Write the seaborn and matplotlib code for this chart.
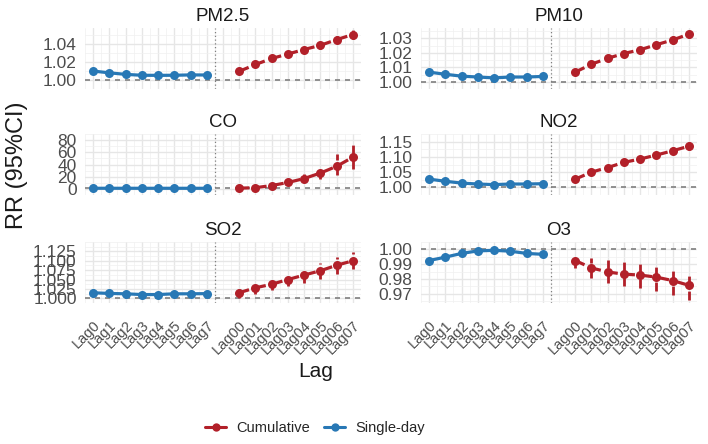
import matplotlib
matplotlib.use("Agg")
import matplotlib.pyplot as plt
import seaborn as sns
import pandas as pd
import numpy as np
from matplotlib.lines import Line2D

# lag labels
single_lags = ["Lag0", "Lag1", "Lag2", "Lag3", "Lag4", "Lag5", "Lag6", "Lag7"]
cum_lags = ["Lag00", "Lag01", "Lag02", "Lag03", "Lag04", "Lag05", "Lag06", "Lag07"]
pollutants = ["PM2.5", "PM10", "CO", "NO2", "SO2", "O3"]

# PM2.5
pm25_single_rr = [1.0100, 1.0080, 1.0063, 1.0053, 1.0052, 1.0053, 1.0057, 1.0056]
pm25_single_lo = [1.0085, 1.0066, 1.0050, 1.0040, 1.0039, 1.0040, 1.0044, 1.0043]
pm25_single_hi = [1.0115, 1.0094, 1.0076, 1.0066, 1.0065, 1.0066, 1.0070, 1.0069]
pm25_cum_rr = [1.0097, 1.0173, 1.0240, 1.0290, 1.0340, 1.0387, 1.0450, 1.0507]
pm25_cum_lo = [1.0082, 1.0153, 1.0215, 1.0262, 1.0308, 1.0350, 1.0410, 1.0462]
pm25_cum_hi = [1.0112, 1.0193, 1.0265, 1.0318, 1.0372, 1.0424, 1.0490, 1.0552]

# PM10
pm10_single_rr = [1.0067, 1.0052, 1.0039, 1.0033, 1.0027, 1.0033, 1.0033, 1.0037]
pm10_single_lo = [1.0057, 1.0043, 1.0030, 1.0024, 1.0018, 1.0024, 1.0024, 1.0028]
pm10_single_hi = [1.0077, 1.0061, 1.0048, 1.0042, 1.0036, 1.0042, 1.0042, 1.0046]
pm10_cum_rr = [1.0067, 1.0122, 1.0163, 1.0196, 1.0222, 1.0257, 1.0290, 1.0330]
pm10_cum_lo = [1.0055, 1.0108, 1.0147, 1.0178, 1.0202, 1.0235, 1.0265, 1.0305]
pm10_cum_hi = [1.0079, 1.0136, 1.0179, 1.0214, 1.0242, 1.0279, 1.0315, 1.0355]

# CO
co_single_rr = [1.05, 1.03, 1.02, 1.01, 1.01, 1.00, 1.00, 1.00]
co_single_lo = [0.95, 0.94, 0.94, 0.93, 0.93, 0.92, 0.92, 0.92]
co_single_hi = [1.15, 1.12, 1.10, 1.09, 1.09, 1.08, 1.08, 1.08]
co_cum_rr = [1.2, 2.0, 5.5, 10.5, 17.0, 26.0, 37.0, 52.0]
co_cum_lo = [0.9, 1.2, 3.5, 7.0, 11.0, 16.0, 23.0, 32.0]
co_cum_hi = [1.6, 3.2, 8.5, 15.0, 25.0, 38.0, 58.0, 81.0]

# NO2
no2_single_rr = [1.027, 1.020, 1.014, 1.011, 1.009, 1.011, 1.011, 1.012]
no2_single_lo = [1.023, 1.016, 1.010, 1.007, 1.005, 1.007, 1.007, 1.008]
no2_single_hi = [1.031, 1.024, 1.018, 1.015, 1.013, 1.015, 1.015, 1.016]
no2_cum_rr = [1.027, 1.050, 1.065, 1.082, 1.093, 1.106, 1.120, 1.135]
no2_cum_lo = [1.022, 1.044, 1.058, 1.074, 1.084, 1.096, 1.108, 1.121]
no2_cum_hi = [1.032, 1.056, 1.072, 1.090, 1.102, 1.116, 1.132, 1.150]

# SO2
so2_single_rr = [1.0147, 1.0130, 1.0120, 1.0100, 1.0100, 1.0120, 1.0120, 1.0125]
so2_single_lo = [1.0030, 1.0070, 1.0060, 1.0040, 1.0040, 1.0060, 1.0060, 1.0065]
so2_single_hi = [1.0250, 1.0190, 1.0180, 1.0160, 1.0160, 1.0180, 1.0180, 1.0185]
so2_cum_rr = [1.0150, 1.0280, 1.0375, 1.0500, 1.0620, 1.0735, 1.0880, 1.1000]
so2_cum_lo = [1.0020, 1.0120, 1.0220, 1.0320, 1.0420, 1.0520, 1.0660, 1.0780]
so2_cum_hi = [1.0270, 1.0450, 1.0530, 1.0680, 1.0820, 1.0950, 1.1100, 1.1230]

# O3
o3_single_rr = [0.9925, 0.9948, 0.9973, 0.9990, 0.9994, 0.9988, 0.9973, 0.9967]
o3_single_lo = [0.9905, 0.9938, 0.9965, 0.9983, 0.9987, 0.9981, 0.9965, 0.9958]
o3_single_hi = [0.9945, 0.9958, 0.9981, 0.9997, 1.0001, 0.9995, 0.9981, 0.9976]
o3_cum_rr = [0.9925, 0.9875, 0.9848, 0.9833, 0.9827, 0.9813, 0.9790, 0.9758]
o3_cum_lo = [0.9875, 0.9805, 0.9775, 0.9754, 0.9740, 0.9723, 0.9696, 0.9656]
o3_cum_hi = [0.9975, 0.9940, 0.9927, 0.9917, 0.9917, 0.9900, 0.9885, 0.9858]

# y-axis breaks per panel
pm25_ticks = [1.00, 1.02, 1.04]
pm10_ticks = [1.00, 1.01, 1.02, 1.03]
co_ticks = [0, 20, 40, 60, 80]
no2_ticks = [1.00, 1.05, 1.10, 1.15]
so2_ticks = [1.000, 1.025, 1.050, 1.075, 1.100, 1.125]
o3_ticks = [0.97, 0.98, 0.99, 1.00]

RED = "#B22029"
BLUE = "#2878B5"

series = {
    "PM2.5": (pm25_single_rr, pm25_single_lo, pm25_single_hi, pm25_cum_rr, pm25_cum_lo, pm25_cum_hi, pm25_ticks, "{:.2f}"),
    "PM10": (pm10_single_rr, pm10_single_lo, pm10_single_hi, pm10_cum_rr, pm10_cum_lo, pm10_cum_hi, pm10_ticks, "{:.2f}"),
    "CO": (co_single_rr, co_single_lo, co_single_hi, co_cum_rr, co_cum_lo, co_cum_hi, co_ticks, "{:.0f}"),
    "NO2": (no2_single_rr, no2_single_lo, no2_single_hi, no2_cum_rr, no2_cum_lo, no2_cum_hi, no2_ticks, "{:.2f}"),
    "SO2": (so2_single_rr, so2_single_lo, so2_single_hi, so2_cum_rr, so2_cum_lo, so2_cum_hi, so2_ticks, "{:.3f}"),
    "O3": (o3_single_rr, o3_single_lo, o3_single_hi, o3_cum_rr, o3_cum_lo, o3_cum_hi, o3_ticks, "{:.2f}"),
}

# long table
rows = []
for p in pollutants:
    s_rr, s_lo, s_hi, c_rr, c_lo, c_hi = series[p][:6]
    for i, lag in enumerate(single_lags):
        rows.append(dict(pollutant=p, lag=lag, pos=i, type="Single-day", rr=s_rr[i], lo=s_lo[i], hi=s_hi[i]))
    for i, lag in enumerate(cum_lags):
        rows.append(dict(pollutant=p, lag=lag, pos=i + 9, type="Cumulative", rr=c_rr[i], lo=c_lo[i], hi=c_hi[i]))
df = pd.DataFrame(rows)

sns.set_theme(style="whitegrid")
plt.rcParams["font.family"] = ["Liberation Sans", "DejaVu Sans"]

W, H = 708, 444
fig = plt.figure(figsize=(W / 100, H / 100), dpi=100)
fig.patch.set_facecolor("white")

col_left = [85, 421]
row_top = [28, 134, 242]
pw, ph = 276, 61
dash = (0, (3.2, 2.2))
palette = {"Cumulative": RED, "Single-day": BLUE}
tick_pos = list(range(8)) + list(range(9, 17))
tick_lab = single_lags + cum_lags

for k, p in enumerate(pollutants):
    r, c = divmod(k, 2)
    ax = fig.add_axes([col_left[c] / W, 1 - (row_top[r] + ph) / H, pw / W, ph / H])
    ax.set_facecolor("white")
    sub = df[df["pollutant"] == p]
    ticks, fmt = series[p][6], series[p][7]

    ax.axhline(1.0, color="#7F7F7F", lw=1.2, ls=(0, (3, 3)), zorder=1)
    ax.axvline(7.5, color="#7F7F7F", lw=0.9, ls=(0, (1, 2)), zorder=1)

    for t, grp in sub.groupby("type"):
        ax.vlines(grp["pos"], grp["lo"], grp["hi"], color=palette[t], lw=2.0,
                  linestyles=dash if t == "Cumulative" else "solid", zorder=2)

    sns.lineplot(data=sub, x="pos", y="rr", hue="type", style="type", palette=palette,
                 dashes={"Cumulative": (3.2, 2.2), "Single-day": ""},
                 markers={"Cumulative": "o", "Single-day": "o"},
                 markersize=6.5, markeredgewidth=0, linewidth=2.3,
                 legend=False, ax=ax, zorder=3)

    lo = min(sub["lo"].min(), 1.0)
    hi = max(sub["hi"].max(), 1.0)
    pad = 0.05 * (hi - lo)
    ax.set_ylim(lo - pad, hi + pad)
    ax.set_xlim(-0.5, 16.5)

    ax.set_yticks(ticks)
    ax.set_yticklabels([fmt.format(v) for v in ticks])
    step = ticks[1] - ticks[0]
    ax.set_yticks(np.arange(ticks[0] - step / 2, ticks[-1] + step, step / 2), minor=True)
    ax.set_xticks(np.arange(-0.5, 16.6, 0.5), minor=True)
    ax.grid(which="major", color="#E6E6E6", lw=1.0)
    ax.grid(which="minor", color="#F0F0F0", lw=0.5)
    ax.tick_params(axis="both", which="both", length=0)
    ax.tick_params(axis="y", labelsize=12.5, labelcolor="#4D4D4D", pad=6)
    if r == 2:
        ax.set_xticks(tick_pos)
        ax.set_xticklabels(tick_lab, rotation=45, ha="right", va="top",
                           rotation_mode="anchor", fontsize=10.5, color="#4D4D4D")
        ax.tick_params(axis="x", pad=11)
    else:
        ax.set_xticks(list(range(17)))
        ax.set_xticklabels([])
    for s in ax.spines.values():
        s.set_visible(False)
    ax.set_xlabel("")
    ax.set_ylabel("")
    ax.set_title(p, fontsize=13.5, color="#1A1A1A", pad=5)

fig.text(17 / W, 1 - 165 / H, "RR (95%CI)", rotation=90, ha="center", va="center", fontsize=17, color="#1A1A1A")
fig.text(316 / W, 1 - 371 / H, "Lag", ha="center", va="center", fontsize=15, color="#1A1A1A")

handles = [Line2D([0], [0], color=RED, lw=2.2, marker="o", markersize=6, markeredgewidth=0),
           Line2D([0], [0], color=BLUE, lw=2.2, marker="o", markersize=6, markeredgewidth=0)]
fig.legend(handles, ["Cumulative", "Single-day"], loc="center", bbox_to_anchor=(315 / W, 1 - 428 / H),
           ncol=2, frameon=False, fontsize=10.5, handlelength=1.4, columnspacing=1.0, handletextpad=0.7)

fig.savefig("out.png", dpi=100, facecolor="white")
